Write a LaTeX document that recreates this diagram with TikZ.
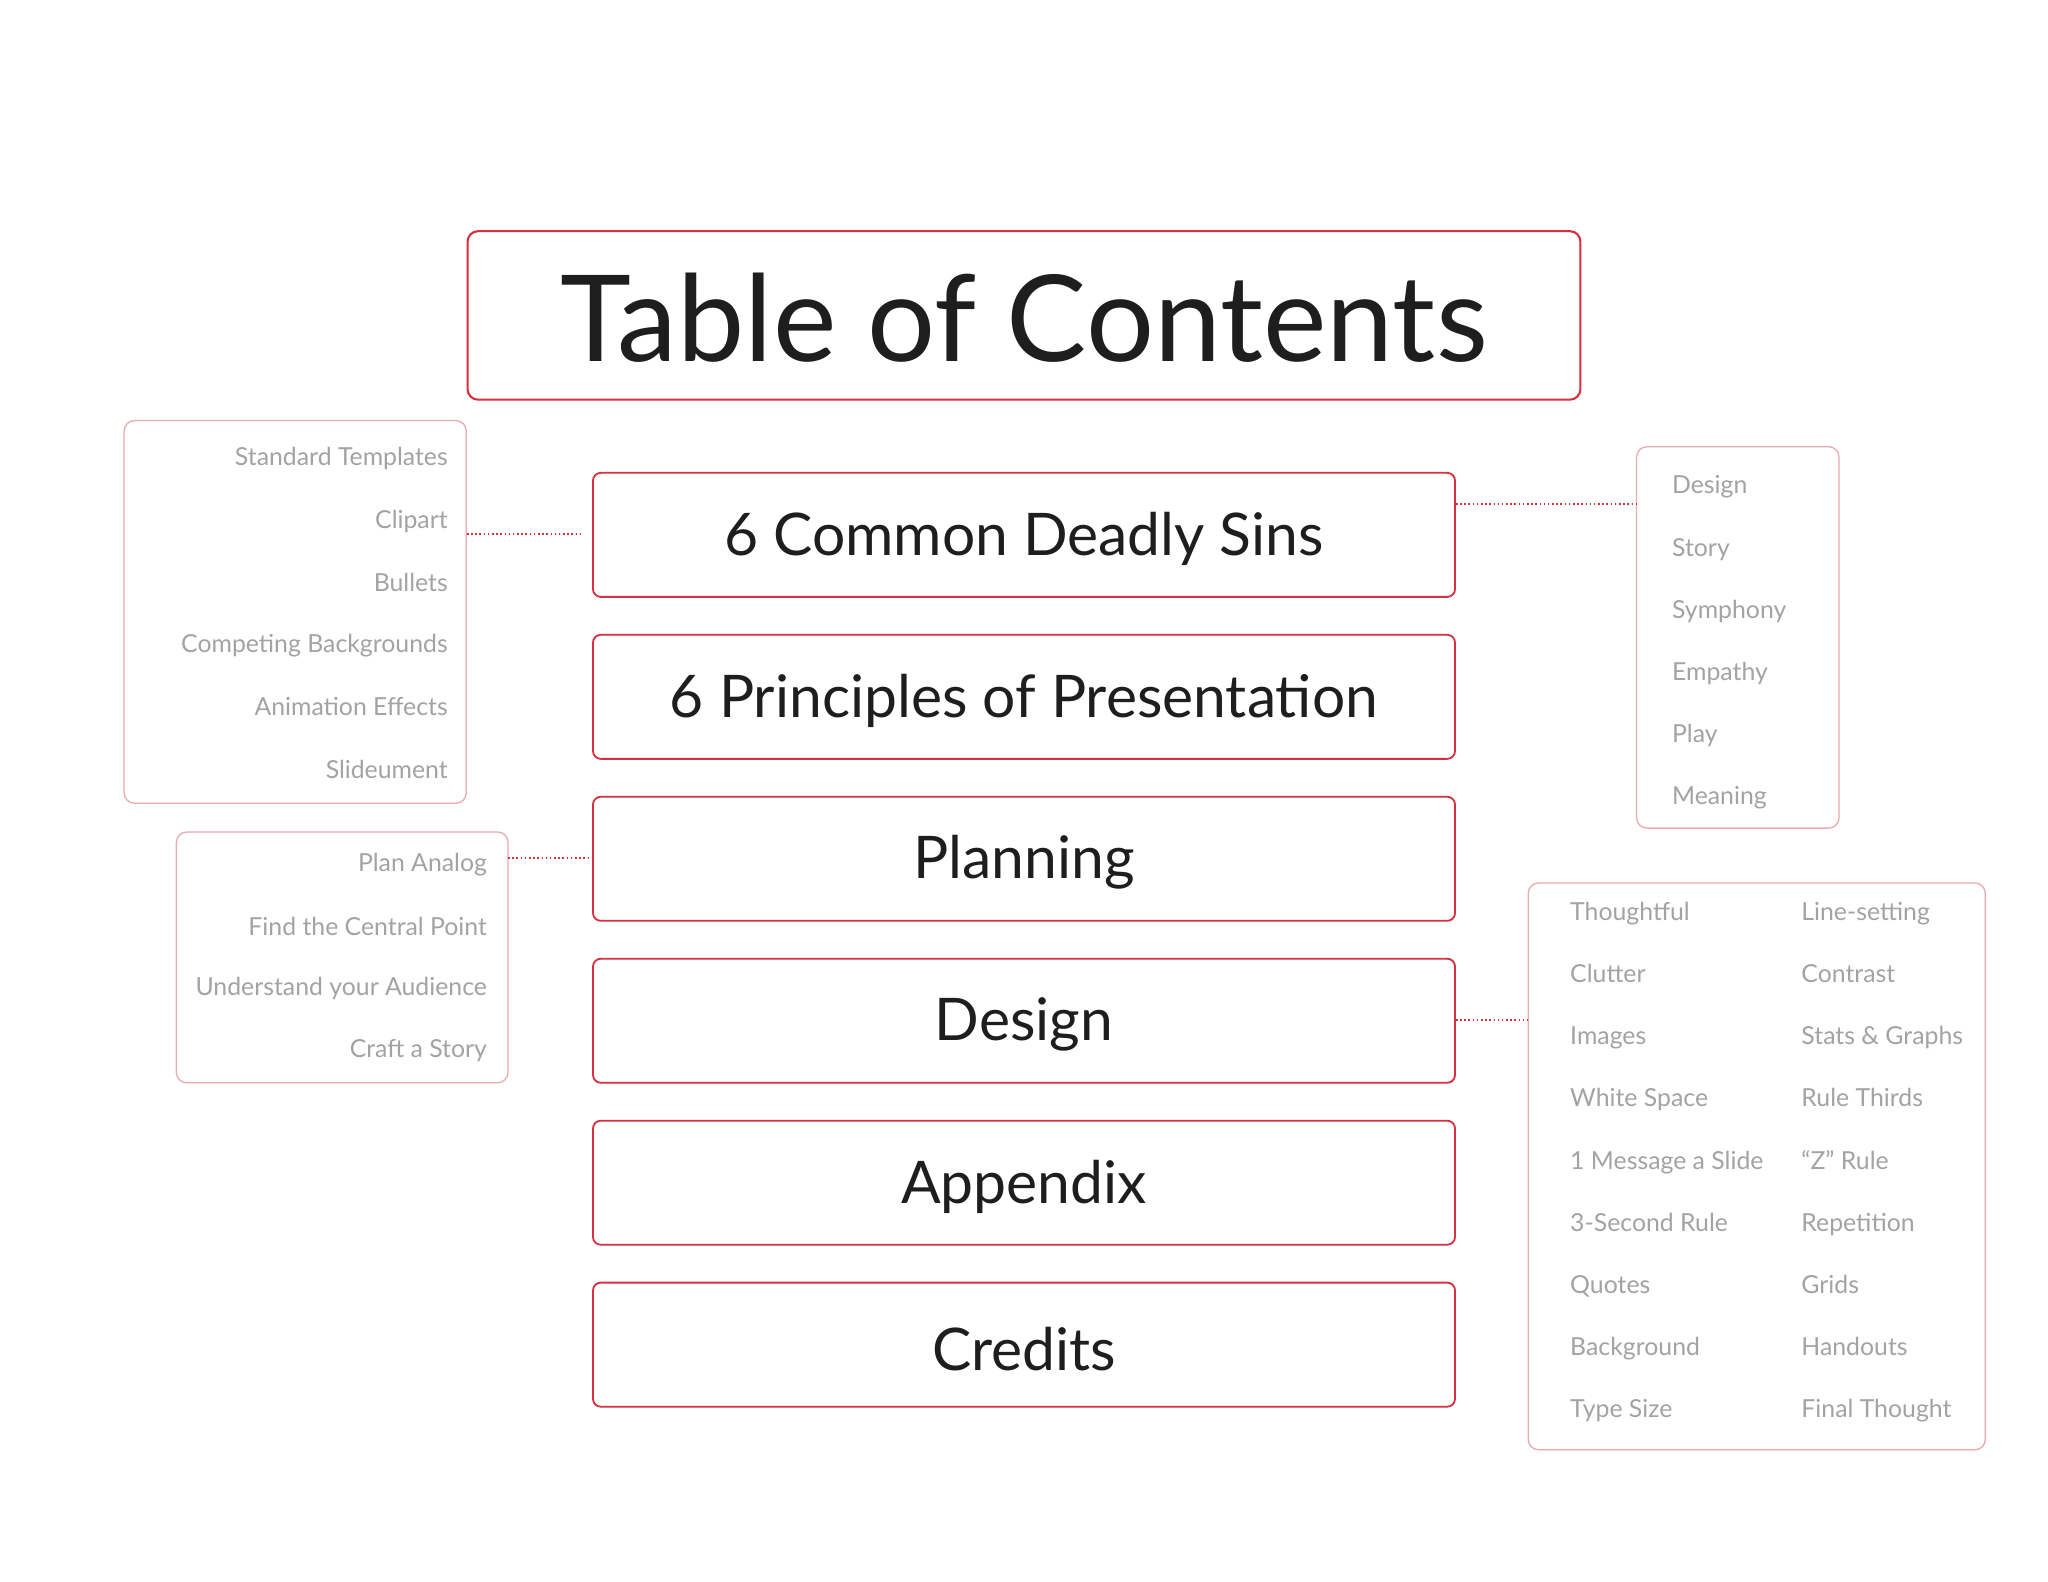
\documentclass[tikz,border=0pt]{standalone}
\usepackage{fontspec}
\setmainfont{Lato}
\definecolor{tred}{HTML}{D6303F}
\definecolor{tpink}{HTML}{EBA9B1}
\definecolor{tgray}{HTML}{A3A3A3}
\definecolor{tdark}{HTML}{1E1E1E}
\begin{document}
\begin{tikzpicture}[x=1pt,y=-1pt,
 mainbox/.style={draw=tred,line width=1.4pt,rounded corners=6pt,minimum width=660pt,minimum height=95pt,text=tdark,font=\fontsize{45}{54}\selectfont,inner sep=0pt},
 mtext/.style={text=tdark,font=\fontsize{45}{54}\selectfont,inner sep=0pt},
 sidebox/.style={draw=tpink,line width=1pt,rounded corners=8pt},
 item/.style={text=tgray,font=\fontsize{19}{23}\selectfont,inner sep=0pt},
 link/.style={draw=tred,dotted,line width=1.2pt}]
\useasboundingbox (0,0) rectangle (1568,1211);
\fill[white] (0,0) rectangle (1568,1211);
\node[draw=tred,line width=1.6pt,rounded corners=8pt,minimum width=852pt,minimum height=129pt,inner sep=0pt] (title) at (784,241.5) {};
\node[text=tdark,font=\fontsize{92}{100}\selectfont,inner sep=0pt] at (784,243) {Table of Contents};
\foreach \n/\y/\t in {m1/409.5/6 Common Deadly Sins,m2/533.5/6 Principles of Presentation,m3/657.5/Planning,m4/781.5/Design,m5/905.5/Appendix,m6/1029.5/Credits}{
 \node[mainbox] (\n) at (784,\y) {};
 \node[mtext] at (784,\y+3) {\t};}
% left box 1
\node[sidebox,minimum width=262pt,minimum height=293pt] (l1) at (226,468.5) {};
\foreach \y/\t in {349/Standard Templates,397/Clipart,444/Bullets,492/Competing Backgrounds,539/Animation Effects,587/Slideument}
 \node[item,anchor=east] at (343,\y+2) {\t};
\coordinate (l1c) at (447,409);
\draw[link] (l1.east|-l1c) -- (l1c);
% left box 2
\node[sidebox,minimum width=254pt,minimum height=192pt] (l2) at (262,733) {};
\foreach \y/\t in {660/Plan Analog,707/Find the Central Point,755/Understand your Audience,802/Craft a Story}
 \node[item,anchor=east] at (373,\y+2) {\t};
\coordinate (l2c) at (389,657);
\draw[link] (l2c) -- (m3.west|-l2c);
% right box 1
\node[sidebox,minimum width=155pt,minimum height=292pt] (r1) at (1330.5,488) {};
\foreach \y/\t in {371/Design,419/Story,466/Symphony,514/Empathy,561/Play,609/Meaning}
 \node[item,anchor=west] at (1280,\y+2) {\t};
\coordinate (r1c) at (1253,386);
\draw[link] (m1.east|-r1c) -- (r1c);
% right box 2
\node[sidebox,minimum width=350pt,minimum height=434pt] (r2) at (1345,893) {};
\foreach \i/\a/\b in {0/Thoughtful/Line-setting,1/Clutter/Contrast,2/Images/Stats \& Graphs,3/White Space/Rule Thirds,4/1 Message a Slide/“Z” Rule,5/3-Second Rule/Repetition,6/Quotes/Grids,7/Background/Handouts,8/Type Size/Final Thought}{
 \node[item,anchor=base west] at (1202,705+47.5*\i) {\a};
 \node[item,anchor=base west] at (1379,705+47.5*\i) {\b};}
\coordinate (r2c) at (1170,781);
\draw[link] (m4.east|-r2c) -- (r2c);
\end{tikzpicture}
\end{document}
